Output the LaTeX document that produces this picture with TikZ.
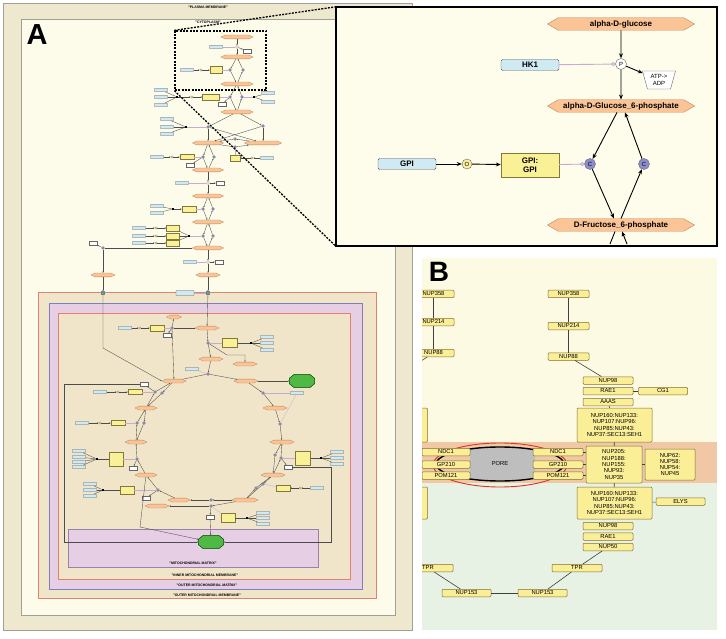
\documentclass[tikz,border=0pt]{standalone}
\usepackage{fontspec}
\setmainfont{Liberation Sans}
\setsansfont{Liberation Sans}
\usetikzlibrary{positioning, shapes.geometric, shapes.symbols, arrows.meta}
\definecolor{pmtan}{RGB}{237,232,206}
\definecolor{pmline}{RGB}{160,160,150}
\definecolor{cytocream}{RGB}{253,251,233}
\definecolor{omtan}{RGB}{240,229,200}
\definecolor{omline}{RGB}{225,130,110}
\definecolor{imspace}{RGB}{230,206,228}
\definecolor{imline}{RGB}{130,125,190}
\definecolor{matline}{RGB}{150,130,170}
\definecolor{specfill}{RGB}{250,196,150}
\definecolor{specline}{RGB}{190,135,95}
\definecolor{protfill}{RGB}{208,234,244}
\definecolor{cplxfill}{RGB}{250,240,150}
\definecolor{cplxline}{RGB}{130,120,60}
\definecolor{catfill}{RGB}{140,140,205}
\definecolor{openfill}{RGB}{252,240,160}
\definecolor{catline}{RGB}{200,170,210}
\definecolor{nodegreen}{RGB}{80,185,70}
\definecolor{trcyan}{RGB}{60,170,190}
\definecolor{insetcream}{RGB}{254,252,234}
\definecolor{bcream}{RGB}{253,250,228}
\definecolor{bband}{RGB}{240,200,165}
\definecolor{bgreen}{RGB}{232,242,228}
\definecolor{bfill}{RGB}{250,238,150}
\definecolor{bline}{RGB}{130,110,50}
\definecolor{poregray}{RGB}{190,190,190}
\definecolor{porered}{RGB}{220,50,40}

\tikzset{
species/.style={signal, signal to=east and west, signal pointer angle=60, draw=specline, fill=specfill, inner sep=0pt},
prot/.style={rectangle, rounded corners=1.5pt, draw=black!65, fill=protfill, inner sep=0pt},
cplx/.style={rectangle, draw=cplxline, fill=cplxfill, inner sep=0pt, align=center},
catc/.style={circle, draw=black!60, fill=catfill, inner sep=0pt},
openc/.style={circle, draw=black!60, fill=openfill, inner sep=0pt},
procc/.style={circle, draw=black!60, fill=white, inner sep=0pt},
sidep/.style={trapezium, trapezium left angle=65, trapezium right angle=65, shape border rotate=180, trapezium stretches body, draw=black!60, fill=white, inner sep=0pt},
octo/.style={rectangle, minimum width=25pt, minimum height=13pt, inner sep=0pt},
octline/.style={draw=green!30!black, fill=nodegreen, line width=0.5pt},
% small map of panel A
ms/.style={species, signal pointer angle=50, line width=0.3pt, minimum height=3.8pt, minimum width=#1},
ms/.default=31pt,
mp/.style={prot, line width=0.3pt, rounded corners=0.5pt, minimum width=13pt, minimum height=3.5pt},
mc/.style={cplx, line width=0.3pt, minimum width=#1, minimum height=6pt},
mc/.default=14pt,
mcat/.style={catc, line width=0.3pt, minimum size=3pt},
mopen/.style={openc, line width=0.3pt, minimum size=2.5pt},
mproc/.style={procc, line width=0.3pt, minimum size=3pt},
mtrap/.style={sidep, line width=0.3pt, minimum width=8pt, minimum height=4pt},
msq/.style={rectangle, fill=black, inner sep=0pt, minimum size=2.5pt},
mtr/.style={rectangle, draw=black!50, fill=trcyan, inner sep=0pt, minimum size=3pt},
medge/.style={line width=0.35pt, draw=black!70, -{Stealth[length=1.6pt,width=1.3pt]}},
mline/.style={line width=0.35pt, draw=black!70},
mcatl/.style={line width=0.3pt, draw=catline},
clabel/.style={font=\fontsize{3.5}{4}\selectfont\bfseries, inner sep=0pt},
% inset
ilabel/.style={font=\fontsize{8}{9}\selectfont\bfseries},
ismall/.style={font=\fontsize{6}{6.5}\selectfont},
arrow/.style={-{Stealth[length=5pt,width=4pt]}, line width=0.9pt},
catal/.style={-{Circle[open,length=4pt]}, draw=catline, line width=0.9pt},
% panel B
bnode/.style={rectangle, rounded corners=1pt, draw=bline, fill=bfill, line width=0.5pt, inner sep=0pt, minimum width=50pt, minimum height=7.5pt, align=center, font=\fontsize{5.8}{6.3}\selectfont},
bedge/.style={draw=black!75, line width=0.6pt}
}

\begin{document}
\begin{tikzpicture}[x=1pt, y=-1pt, font=\sffamily]
\useasboundingbox (0,0) rectangle (726,639);
\fill[white] (0,0) rectangle (726,639);

% Panel A: compartments
\draw[draw=pmline, fill=pmtan, line width=0.6pt] (3,3) rectangle (412,630);
\draw[draw=pmline, fill=cytocream, line width=0.6pt] (21,19) rectangle (395,615);
\draw[draw=omline, fill=omtan, line width=0.5pt] (38,292) rectangle (376,598);
\draw[draw=imline, fill=imspace, line width=0.5pt] (49,303) rectangle (362,589);
\draw[draw=omline, fill=omtan, line width=0.5pt] (58,313) rectangle (350,579);
\draw[draw=matline, fill=imspace, line width=0.5pt] (68,529) rectangle (318,567);

\node[clabel] (lpm) at (208,7) {"PLASMA MEMBRANE"};
\node[clabel] (lcyto) at (208,22) {"CYTOPLASM"};
\node[clabel] (lmat) at (193,563.5) {"MITOCHONDRIAL MATRIX"};
\node[clabel] (limm) at (205,575.5) {"INNER MITOCHONDRIAL MEMBRANE"};
\node[clabel] (lomx) at (207,585.5) {"OUTER MITOCHONDRIAL MATRIX"};
\node[clabel] (lomm) at (207,595) {"OUTER MITOCHONDRIAL MEMBRANE"};
\node[font=\fontsize{29}{29}\selectfont\bfseries] (alabel) at (37,35) {A};

% glucose -> G6P -> F6P
\node[ms=32pt] (aglc) at (237,37) {};
\node[mp] (ahk) at (216,47) {};
\node[mproc] (ap1) at (237,47) {};
\node[mtrap] (aatp1) at (247,51) {};
\node[ms=32pt] (ag6p) at (237,57) {};
\node[mp] (agpi) at (187,70) {};
\node[mopen] (ao1) at (201,70) {};
\node[mc=12pt, minimum height=7pt] (agpic) at (216,70) {};
\node[mcat] (ac1) at (230,70) {};
\node[mcat] (ac2) at (243,70) {};
\node[ms=32pt] (af6p) at (237,84) {};

% F6P -> F16BP
\foreach \y [count=\i] in {90,97,105} {\node[mp] (apfk\i) at (161,\y) {};}
\node[msq] (asq1) at (177,97) {};
\node[mopen] (ao2) at (192,97) {};
\node[mc=17pt] (apfkc) at (211,97) {};
\node[mcat] (ac3) at (230,97) {};
\node[mcat] (ac4) at (242,97) {};
\node[mtrap] (aatp2) at (222,104) {};
\node[msq] (asq2) at (254,97) {};
\node[mp] (afbp1) at (268,93) {};
\node[mp] (afbp2) at (268,102) {};
\node[ms=32pt] (af16) at (237,112) {};

% aldolase and TPI
\foreach \y [count=\i] in {119,127,134} {\node[mp] (aald\i) at (167,\y) {};}
\node[msq] (asq3) at (186,127) {};
\node[mcat] (ac5) at (208,127) {};
\node[mcat] (ac6) at (263,126) {};
\node[ms=31pt] (ag3p) at (208,143) {};
\node[ms=37pt] (adhap) at (263,143) {};
\node[mcat] (ac7) at (235,139) {};
\node[mcat] (ac8) at (235,147) {};
\node[mc=10pt] (atpi) at (235,158) {};
\node[mopen] (ao3) at (252,158) {};
\node[mp] (atpip) at (267,158) {};

% GAPDH
\node[mp] (agap) at (157,157) {};
\node[mopen] (ao4) at (172,157) {};
\node[mc, minimum height=5pt] (agapc) at (187,157) {};
\node[mcat] (ac9) at (203,157) {};
\node[mcat] (ac10) at (214,157) {};
\node[mtrap] (aatp3) at (190,165) {};
\node[ms] (abpg) at (208,170) {};

% PGK
\node[mp] (apgk) at (182,183) {};
\node[mproc] (ap2) at (208,183) {};
\node[mtrap] (aatp4) at (220,183) {};
\node[ms] (a3pg) at (208,196) {};

% PGAM
\node[mp] (apgam1) at (157,206) {};
\node[mp] (apgam2) at (157,213) {};
\node[msq] (asq4) at (173,209) {};
\node[mc] (apgamc) at (189,209) {};
\node[mcat] (ac11) at (203,209) {};
\node[mcat] (ac12) at (213,209) {};
\node[ms] (a2pg) at (208,222) {};

% enolase
\foreach \y [count=\i] in {228,236,243} {
  \node[mp] (aeno\i) at (139,\y) {};
  \node[mopen] (aeo\i) at (156,\y) {};
  \node[mc=13pt] (aenoc\i) at (173,\y) {};
}
\node[msq] (asq5) at (189,236) {};
\node[mcat] (ac13) at (203,236) {};
\node[mcat] (ac14) at (213,236) {};
\node[ms] (apep) at (208,248) {};

% lactate branch and PK
\node[mcat] (ac15) at (103,248) {};
\node[mtrap] (aatp5) at (93,243) {};
\node[ms=24pt] (alac) at (103,275) {};
\node[mp] (apk) at (190,262) {};
\node[mproc] (ap3) at (208,262) {};
\node[mtrap] (aatp6) at (219,262) {};
\node[ms=24pt] (apyr) at (208,275) {};

% transport into mitochondrion
\node[mtr] (atr1) at (103,293) {};
\node[mtr] (atr2) at (208,293) {};
\node[mp, minimum width=18pt, minimum height=5pt] (ampc) at (185,293) {};

% mitochondrial pyruvate
\node[ms=15pt] (ahex1) at (174,317) {};
\node[ms=24pt] (apyrm) at (207,328) {};
\node[mp] (apc) at (125,328) {};
\node[mopen] (ao5) at (140,328) {};
\node[mc] (apcc) at (157,328) {};
\node[mcat] (ac16) at (172,328) {};
\node[mtrap] (aatp7) at (167,335) {};

% PDH
\node[mcat] (ac17) at (208,343) {};
\node[mc=15pt, minimum height=9pt] (apdh) at (230,343) {};
\node[msq] (asq6) at (251,343) {};
\foreach \y [count=\i] in {337,343,350} {\node[mp] (apdh\i) at (267,\y) {};}
\node[ms=24pt] (aaccoa) at (211,359) {};
\node[ms=24pt] (aco2) at (245,364) {};
\node[mp] (acsp) at (192,369) {};
\node[mcat] (acs) at (208,374) {};

% TCA cycle
\node[ms=24pt] (aoaa) at (174,381) {};
\node[ms=24pt] (acit) at (246,381) {};
\node[ms=24pt] (at3) at (275,408) {};
\node[ms=24pt] (at4) at (282,442) {};
\node[ms=24pt] (at5) at (273,475) {};
\node[ms=26pt] (at6) at (245,500) {};
\node[ms=22pt] (at7) at (179,500) {};
\node[ms=24pt] (at7b) at (157,506) {};
\node[ms=22pt] (at8) at (146,475) {};
\node[ms=22pt] (at9) at (136,442) {};
\node[ms=22pt] (at10) at (146,408) {};
\node[octo] (agrn1) at (302,381) {};
\node[octo] (agrn2) at (211,542) {};
\foreach \g in {agrn1,agrn2}
  \draw[octline] ([xshift=5pt]\g.north west) -- ([xshift=-5pt]\g.north east)
    -- ([yshift=-4pt]\g.north east) -- ([yshift=4pt]\g.south east)
    -- ([xshift=-5pt]\g.south east) -- ([xshift=5pt]\g.south west)
    -- ([yshift=4pt]\g.south west) -- ([yshift=-4pt]\g.north west) -- cycle;

\node[mcat] (ac18) at (263,393) {};
\node[mp] (aacop) at (297,393) {};
\node[mcat] (ac19) at (280,424) {};
\node[mcat] (ac20) at (275,455) {};
\node[mcat] (ac21) at (281,458) {};
\node[mc=15pt, minimum height=14pt] (amc1) at (303,458) {};
\node[msq] (asq7) at (321,458) {};
\foreach \y [count=\i] in {452,458,464} {\node[mp] (akg\i) at (337,\y) {};}
\node[mtrap] (aatp8) at (288,467) {};
\node[mcat] (ac22) at (256,488) {};
\node[mcat] (ac23) at (263,484) {};
\node[mc] (amc2) at (283,488) {};
\node[mopen] (ao6) at (300,488) {};
\node[mp] (amp2) at (317,488) {};
\node[mcat] (ac24) at (211,500) {};
\node[mcat] (ac25) at (211,506) {};
\node[mtrap] (aatp9) at (210,517) {};
\node[mc, minimum height=9pt] (amc3) at (228,518) {};
\node[msq] (asq8) at (247,518) {};
\foreach \y [count=\i] in {513,518,524} {\node[mp] (asd\i) at (263,\y) {};}
\node[mcat] (ac26) at (158,490) {};
\node[mc, minimum height=8pt] (amc4) at (127,490) {};
\node[msq] (asq9) at (103,490) {};
\foreach \y [count=\i] in {484,490,496} {\node[mp] (afh\i) at (90,\y) {};}
\node[mtrap] (aatp10) at (146,498) {};
\node[mcat] (ac27) at (137,459) {};
\node[mc, minimum height=14pt] (amc5) at (116,459) {};
\node[msq] (asq10) at (97,459) {};
\foreach \y [count=\i] in {451,457,462,467} {\node[mp] (amd\i) at (79,\y) {};}
\node[mtrap] (aatp12) at (133,468) {};
\node[mcat] (ac28) at (137,423) {};
\node[mcat] (ac29) at (144,423) {};
\node[mc, minimum height=5pt] (amc6) at (118,423) {};
\node[mopen] (ao7) at (100,423) {};
\node[mp] (amp6) at (82,423) {};
\node[mcat] (ac30) at (155,392) {};
\node[mcat] (ac31) at (162,393) {};
\node[mc, minimum height=5pt] (amc7) at (135,392) {};
\node[mopen] (ao8) at (118,392) {};
\node[mp] (amp7) at (100,392) {};
\node[mtrap] (aatp11) at (144,384) {};

\coordinate (abend1) at (103,348);
\coordinate (abend2) at (227,355);
\coordinate (abend4) at (64,384);
\coordinate (abend5) at (331,467);
\coordinate (abend6) at (140,527);

% map connectors
\draw[medge] (aglc) -- (ap1);
\draw[medge] (ap1) -- (ag6p);
\draw[medge] (ap1) -- (aatp1);
\draw[mcatl] (ahk) -- (ap1);
\draw[medge] (ag6p) -- (ac1);
\draw[medge] (ac1) -- (af6p);
\draw[medge] (af6p) -- (ac2);
\draw[medge] (ac2) -- (ag6p);
\draw[medge] (agpi) -- (ao1);
\draw[medge] (ao1) -- (agpic);
\draw[mcatl] (agpic) -- (ac1);
\foreach \i in {1,2,3} {\draw[mline] (apfk\i) -- (asq1);}
\draw[medge] (asq1) -- (ao2);
\draw[medge] (ao2) -- (apfkc);
\draw[mcatl] (apfkc) -- (ac3);
\draw[medge] (af6p) -- (ac3);
\draw[medge] (ac3) -- (af16);
\draw[medge] (af16) -- (ac4);
\draw[medge] (ac4) -- (af6p);
\draw[medge] (ac3) -- (aatp2);
\draw[mline] (afbp1) -- (asq2);
\draw[mline] (afbp2) -- (asq2);
\draw[mcatl] (asq2) -- (ac4);
\foreach \i in {1,2,3} {\draw[mline] (aald\i) -- (asq3);}
\draw[mcatl] (asq3) -- (ac5);
\draw[medge] (af16) -- (ac5);
\draw[medge] (af16) -- (ac6);
\draw[medge] (ac5) -- (ag3p);
\draw[medge] (ac5) -- (adhap);
\draw[medge] (ac6) -- (ag3p);
\draw[medge] (ac6) -- (adhap);
\draw[medge] (adhap) -- (ac7);
\draw[medge] (ac7) -- (ag3p);
\draw[medge] (ag3p) -- (ac8);
\draw[medge] (ac8) -- (adhap);
\draw[medge] (atpip) -- (ao3);
\draw[medge] (ao3) -- (atpi);
\draw[mcatl] (atpi) -- (ac8);
\draw[medge] (ag3p) -- (ac9);
\draw[medge] (ac9) -- (abpg);
\draw[medge] (abpg) -- (ac10);
\draw[medge] (ac10) -- (ag3p);
\draw[medge] (agap) -- (ao4);
\draw[medge] (ao4) -- (agapc);
\draw[mcatl] (agapc) -- (ac9);
\draw[medge] (ac9) -- (aatp3);
\draw[medge] (abpg) -- (ap2);
\draw[medge] (ap2) -- (a3pg);
\draw[mcatl] (apgk) -- (ap2);
\draw[medge] (ap2) -- (aatp4);
\draw[mline] (apgam1) -- (asq4);
\draw[mline] (apgam2) -- (asq4);
\draw[medge] (asq4) -- (apgamc);
\draw[mcatl] (apgamc) -- (ac11);
\draw[medge] (a3pg) -- (ac11);
\draw[medge] (ac11) -- (a2pg);
\draw[medge] (a2pg) -- (ac12);
\draw[medge] (ac12) -- (a3pg);
\foreach \i in {1,2,3} {
  \draw[medge] (aeno\i) -- (aeo\i);
  \draw[medge] (aeo\i) -- (aenoc\i);
  \draw[mline] (aenoc\i) -- (asq5);
}
\draw[mcatl] (asq5) -- (ac13);
\draw[medge] (a2pg) -- (ac13);
\draw[medge] (ac13) -- (apep);
\draw[medge] (apep) -- (ac14);
\draw[medge] (ac14) -- (a2pg);
\draw[mline] (apep) -- (ac15);
\draw[medge] (ac15) -- (aatp5);
\draw[medge] (ac15) -- (alac);
\draw[medge] (apep) -- (ap3);
\draw[medge] (ap3) -- (apyr);
\draw[mcatl] (apk) -- (ap3);
\draw[medge] (ap3) -- (aatp6);
\draw[medge] (alac) -- (atr1);
\draw[medge] (apyr) -- (atr2);
\draw[mcatl] (ampc) -- (atr2);
\draw[medge] (atr2) -- (apyrm);
\draw[medge] (atr1) -- (abend1) -- (aoaa.west);
\draw[mline] (apyrm) -- (ac16);
\draw[medge] (ac16) -- (ahex1);
\draw[medge] (ac16) -- (aoaa);
\draw[medge] (ac16) -- (aatp7);
\draw[medge] (apc) -- (ao5);
\draw[medge] (ao5) -- (apcc);
\draw[mcatl] (apcc) -- (ac16);
\draw[medge] (apyrm) -- (ac17);
\draw[medge] (ac17) -- (aaccoa);
\draw[mcatl] (apdh) -- (ac17);
\draw[mline] (asq6) -- (apdh);
\foreach \i in {1,2,3} {\draw[mline] (apdh\i) -- (asq6);}
\draw[medge] (ac17) -- (abend2) -| (aco2);
\draw[medge] (aaccoa) -- (acs);
\draw[mcatl] (acsp) -- (acs);
\draw[mline] (aoaa) -- (acs);
\draw[medge] (acs) -- (acit);
\draw[medge] (acit) -- (agrn1);
\draw[medge] (acit) -- (ac18);
\draw[medge] (ac18) -- (at3);
\draw[mcatl] (aacop) -- (ac18);
\draw[mcatl] (aacop) -- (ac19);
\draw[medge] (at3) -- (ac19);
\draw[medge] (ac19) -- (at4);
\draw[medge] (at4) -- (ac20);
\draw[medge] (ac20) -- (at5);
\draw[medge] (at5) -- (ac21);
\draw[medge] (ac21) -- (at4);
\draw[mcatl] (amc1) -- (ac21);
\draw[mline] (asq7) -- (amc1);
\foreach \i in {1,2,3} {\draw[mline] (akg\i) -- (asq7);}
\draw[medge] (ac21) -- (aatp8);
\draw[medge] (at5) -- (ac23);
\draw[medge] (ac23) -- (at6);
\draw[medge] (at6) -- (ac22);
\draw[medge] (ac22) -- (at5);
\draw[mcatl] (amc2) -- (ac23);
\draw[medge] (amp2) -- (ao6);
\draw[medge] (ao6) -- (amc2);
\draw[medge] (at6) -- (ac24);
\draw[medge] (ac24) -- (at7);
\draw[medge] (at6) -- (ac25);
\draw[medge] (ac25) -- (at7b);
\draw[medge] (ac25) -- (aatp9);
\draw[medge] (aatp9) -- (agrn2);
\draw[mcatl] (amc3) -- (ac25);
\draw[mline] (asq8) -- (amc3);
\foreach \i in {1,2,3} {\draw[mline] (asd\i) -- (asq8);}
\draw[medge] (at7) -- (ac26);
\draw[medge] (ac26) -- (at8);
\draw[medge] (ac26) -- (aatp10);
\draw[mcatl] (amc4) -- (ac26);
\draw[mline] (asq9) -- (amc4);
\foreach \i in {1,2,3} {\draw[mline] (afh\i) -- (asq9);}
\draw[medge] (at8) -- (ac27);
\draw[medge] (ac27) -- (at9);
\draw[medge] (ac27) -- (aatp12);
\draw[mcatl] (amc5) -- (ac27);
\draw[mline] (asq10) -- (amc5);
\foreach \i in {1,2,3,4} {\draw[mline] (amd\i) -- (asq10);}
\draw[medge] (at9) -- (ac28);
\draw[medge] (ac28) -- (at10);
\draw[medge] (at10) -- (ac29);
\draw[medge] (ac29) -- (at9);
\draw[mcatl] (amc6) -- (ac28);
\draw[medge] (amp6) -- (ao7);
\draw[medge] (ao7) -- (amc6);
\draw[medge] (at10) -- (ac30);
\draw[medge] (ac30) -- (aoaa);
\draw[medge] (aoaa) -- (ac31);
\draw[medge] (ac31) -- (at10);
\draw[mcatl] (amc7) -- (ac30);
\draw[medge] (amp7) -- (ao8);
\draw[medge] (ao8) -- (amc7);
\draw[medge] (ac30) -- (aatp11);
\draw[medge] (aatp11) -- (abend4) |- (agrn2);
\draw[medge] (aatp8) -- (abend5) |- (agrn2);
\draw[medge] (at8) -- (abend6) -- (agrn2);

% zoom frame and inset
\node[draw=black, line width=1.3pt, dash pattern=on 2pt off 1.3pt, minimum width=91pt, minimum height=59pt, inner sep=0pt] (zoombox) at (220.5,60.5) {};
\node[minimum width=381pt, minimum height=239pt, inner sep=0pt] (insetpos) at (526.5,126.5) {};
\draw[line width=1.3pt, dash pattern=on 2pt off 1.3pt] (zoombox.north west) -- (insetpos.north west);
\draw[line width=1.3pt, dash pattern=on 2pt off 1.3pt] (zoombox.south west) -- (insetpos.south west);
\node[draw=black, line width=2.2pt, fill=insetcream, minimum width=381pt, minimum height=239pt, inner sep=0pt] (inset) at (526.5,126.5) {};

\node[species, minimum width=147pt, minimum height=12.5pt, ilabel] (glc) at (621,24) {alpha-D-glucose};
\node[prot, minimum width=58pt, minimum height=11pt, ilabel] (hk1) at (530,65) {HK1};
\node[procc, minimum size=11pt, ismall] (phk) at (621,64) {P};
\node[sidep, minimum width=33pt, minimum height=18pt, ismall, align=center] (atp) at (659,80) {ATP->\\ADP};
\node[species, minimum width=147pt, minimum height=12.5pt, ilabel] (g6p) at (621,106) {alpha-D-Glucose\_6-phosphate};
\node[catc, minimum size=11pt, ismall] (cl) at (590,164) {C};
\node[catc, minimum size=11pt, ismall] (cr) at (644,164) {C};
\node[prot, minimum width=58pt, minimum height=11pt, ilabel] (gpi) at (407,164) {GPI};
\node[openc, minimum size=10pt, ismall] (ogpi) at (467,164) {O};
\node[cplx, minimum width=58pt, minimum height=24pt, ilabel] (gpic) at (530,165) {GPI:\\GPI};
\node[species, minimum width=147pt, minimum height=12.5pt, ilabel] (f6p) at (621,225) {D-Fructose\_6-phosphate};
\coordinate (fout1) at (610,244);
\coordinate (fout2) at (627,244);

\draw[arrow] (glc) -- (phk);
\draw[arrow] (phk) -- (g6p);
\draw[arrow] (phk) -- (atp);
\draw[catal] (hk1) -- (phk);
\draw[arrow] ([xshift=-4pt]g6p.south) -- (cl);
\draw[arrow] (cl) -- ([xshift=-7pt]f6p.north);
\draw[arrow] (f6p.north) -- (cr);
\draw[arrow] (cr) -- ([xshift=4pt]g6p.south);
\draw[arrow] (gpi) -- (ogpi);
\draw[arrow] (ogpi) -- (gpic);
\draw[catal] (gpic) -- (cl);
\draw[line width=0.9pt] ([xshift=-6pt]f6p.south) -- (fout1);
\draw[arrow] (fout2) -- ([xshift=1pt]f6p.south);

% Panel B
\begin{scope}
\clip (422,258) rectangle (717,630);
\fill[bcream] (422,258) rectangle (717,442);
\fill[bband] (422,442) rectangle (717,483);
\fill[bgreen] (422,483) rectangle (717,630);
\draw[porered, line width=0.9pt] (500,465) ellipse [x radius=67pt, y radius=22pt];
\begin{scope}
\clip (470,440) rectangle (535,490);
\fill[poregray] (500,464) ellipse [x radius=64pt, y radius=17pt];
\end{scope}
\node[ellipse, draw=black, line width=1.4pt, minimum width=128pt, minimum height=34pt, inner sep=0pt, font=\fontsize{5.8}{6.3}\selectfont] (pore) at (500,464) {PORE};

\node[bnode, minimum width=41pt] (lnup358) at (433.5,294) {NUP358};
\node[bnode, minimum width=41pt] (lnup214) at (433.5,322) {NUP214};
\node[bnode, minimum width=41pt] (lnup88) at (433.5,353) {NUP88};
\node[bnode, minimum width=41pt] (rnup358) at (568.5,294) {NUP358};
\node[bnode, minimum width=41pt] (rnup214) at (568.5,326) {NUP214};
\node[bnode, minimum width=41pt] (rnup88) at (568.5,356.5) {NUP88};
\node[bnode] (bnup98) at (608,380.5) {NUP98};
\node[bnode, below=2.5pt of bnup98] (brae1) {RAE1};
\node[bnode, right=5pt of brae1, minimum width=49pt] (bcg1) {CG1};
\node[bnode, below=3pt of brae1] (baaas) {AAAS};
\node[bnode, minimum width=75pt, minimum height=34pt] (bnupc1) at (614.5,425) {NUP160:NUP133:\\NUP107:NUP96:\\NUP85:NUP43:\\NUP37:SEC13:SEH1};
\node[bnode, minimum width=75pt, minimum height=34pt] (lnupc1) at (390,425) {};

\node[bnode, minimum width=48pt] (lndc1) at (446,452) {NDC1};
\node[bnode, minimum width=48pt] (lgp210) at (446,464.5) {GP210};
\node[bnode, minimum width=48pt] (lpom121) at (446,475.5) {POM121};
\node[bnode] (rndc1) at (558,452) {NDC1};
\node[bnode] (rgp210) at (558,464.5) {GP210};
\node[bnode] (rpom121) at (558,475.5) {POM121};
\node[bnode, minimum width=56pt, minimum height=37pt] (bnup205) at (614,464.5) {NUP205:\\NUP188:\\NUP155:\\NUP93:\\NUP35};
\node[bnode, minimum width=50pt, minimum height=31pt] (bnup62) at (670,464.5) {NUP62:\\NUP58:\\NUP54:\\NUP45};

\node[bnode, minimum width=75pt, minimum height=32pt] (bnupc3) at (614.5,503) {NUP160:NUP133:\\NUP107:NUP96:\\NUP85:NUP43:\\NUP37:SEC13:SEH1};
\node[bnode, minimum width=75pt, minimum height=32pt] (lnupc3) at (390,503) {};
\node[bnode, minimum width=49pt] (belys) at (680.5,501.5) {ELYS};
\node[bnode] (bnup98b) at (608,526) {NUP98};
\node[bnode] (brae1b) at (608,536.5) {RAE1};
\node[bnode] (bnup50) at (608,547) {NUP50};
\node[bnode] (rtpr) at (577,568) {TPR};
\node[bnode] (ltpr) at (428,568) {TPR};
\node[bnode, minimum width=49pt] (lnup153) at (466.5,593) {NUP153};
\node[bnode, minimum width=49pt] (rnup153) at (542.5,593) {NUP153};
\coordinate (lnup88out) at (410,368);
\coordinate (ltprout) at (410,558);

\draw[bedge] (lnup358) -- (lnup214);
\draw[bedge] (lnup214) -- (lnup88);
\draw[bedge] (lnup88) -- (lnup88out);
\draw[bedge] (rnup358) -- (rnup214);
\draw[bedge] (rnup214) -- (rnup88);
\draw[bedge] (rnup88) -- (bnup98);
\draw[bedge] (brae1) -- (bcg1);
\draw[bedge] (baaas) -- (bnupc1);
\draw[bedge] (bnupc1) -- (bnup205);
\draw[bedge] (rndc1) -- (rndc1 -| bnup205.west);
\draw[bedge] (rgp210) -- (rgp210 -| bnup205.west);
\draw[bedge] (rpom121) -- (rpom121 -| bnup205.west);
\draw[bedge] (bnup205) -- (bnup62);
\draw[bedge] (bnup205) -- (bnupc3);
\draw[bedge] (bnupc3) -- (belys);
\draw[bedge] (bnup50) -- (rtpr);
\draw[bedge] (rtpr) -- (rnup153);
\draw[bedge] (rnup153) -- (lnup153);
\draw[bedge] (lnup153) -- (ltpr);
\draw[bedge] (ltpr) -- (ltprout);
\end{scope}
\node[font=\fontsize{28}{28}\selectfont\bfseries] (blabel) at (439,272) {B};

\end{tikzpicture}
\end{document}
